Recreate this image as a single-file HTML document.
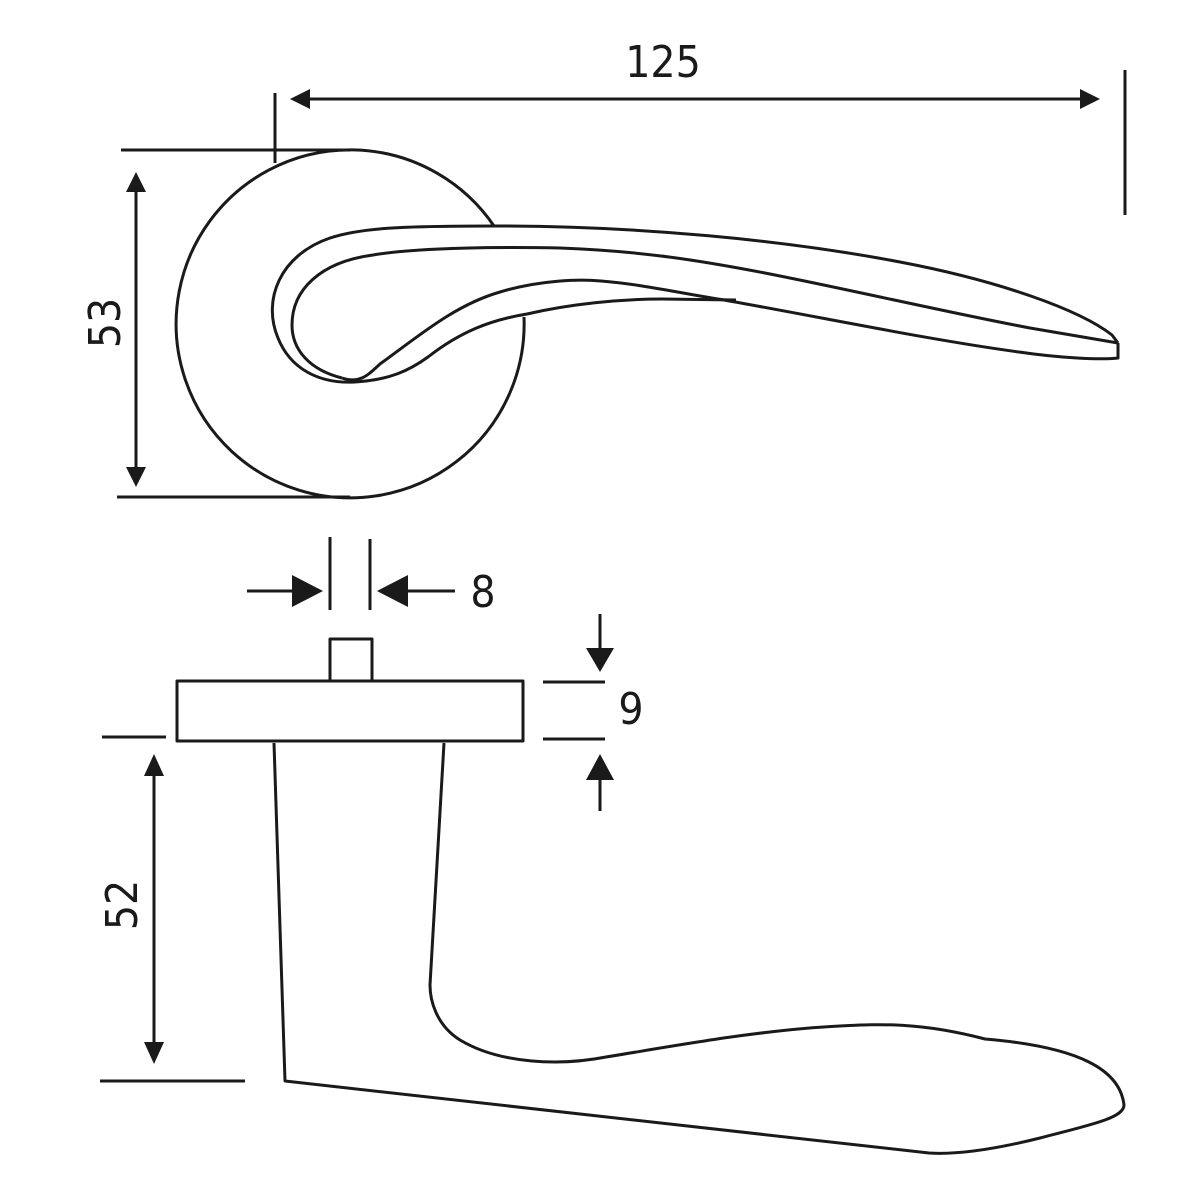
<!DOCTYPE html>
<html><head><meta charset="utf-8"><style>html,body{margin:0;padding:0;background:#fff}svg{display:block}</style></head>
<body>
<svg width="1200" height="1200" viewBox="0 0 1200 1200" xmlns="http://www.w3.org/2000/svg">
<defs>
<marker id="a" viewBox="0 0 10 10" refX="10" refY="5" markerWidth="7" markerHeight="7" orient="auto-start-reverse" markerUnits="userSpaceOnUse">
</marker>
</defs>
<g fill="none" stroke="#1a1a1a" stroke-width="3" stroke-linejoin="round" stroke-linecap="butt">
<!-- top view rosette -->
<path d="M494,226 A174,174 0 1 0 524,317"/>
<!-- lever outer -->
<path d="M355,382 C318,384 290,368 278,338 C262,300 280,255 330,238 C360,228 400,226 494,226 C640,226 785,240 900,262 C1000,281 1080,310 1112,335 L1118,343"/>
<!-- lever inner -->
<path d="M342,378 C310,370 292,350 292,325 C292,290 320,262 373,255 C420,247 508,247 560,248 C640,251 700,260 780,276 C860,292 960,315 1030,328 L1118,343"/>
<!-- lower edge -->
<path d="M342,378 C360,384 368,375 380,364 C420,335 455,305 500,292 C540,280 580,279 601,281 C640,284 680,293 724,300 C820,317 930,340 1019,352 C1060,358 1100,360 1118,358 L1118,343"/>
<path d="M355,382 C390,380 410,370 428,357 C460,332 490,320 527,314 C570,304 620,299 662,299 L736,300"/>
<!-- dims top -->
<line x1="121" y1="150" x2="350" y2="150"/>
<line x1="117" y1="497" x2="350" y2="497"/>
<line x1="275" y1="93" x2="275" y2="163"/>
<line x1="1125" y1="70" x2="1125" y2="215"/>
<line x1="305" y1="99" x2="1083" y2="99"/>
<line x1="136" y1="190" x2="136" y2="470"/>
<!-- bottom view -->
<rect x="177" y="681" width="346" height="60"/>
<rect x="330" y="639" width="42" height="42"/>
<path d="M274,743 L285,1081 L929,1153 C960,1155 1000,1148 1040,1138 C1090,1125 1124,1118 1124,1105 C1120,1070 1080,1047 985,1039 C920,1022 880,1024 840,1026 C760,1030 680,1045 606,1057 C560,1066 500,1064 460,1040 C436,1025 430,1000 430,985 L444,743"/>
<line x1="330" y1="537" x2="330" y2="610"/>
<line x1="370" y1="539" x2="370" y2="610"/>
<line x1="247" y1="591" x2="295" y2="591"/>
<line x1="405" y1="591" x2="455" y2="591"/>
<line x1="543" y1="682" x2="605" y2="682"/>
<line x1="543" y1="739" x2="605" y2="739"/>
<line x1="600" y1="614" x2="600" y2="648"/>
<line x1="600" y1="780" x2="600" y2="811"/>
<line x1="102" y1="737" x2="166" y2="737"/>
<line x1="100" y1="1081" x2="245" y2="1081"/>
<line x1="154" y1="775" x2="154" y2="1045"/>
</g>
<g fill="#1a1a1a">
<polygon points="290,99 310,89 310,109"/>
<polygon points="1100,99 1080,89 1080,109"/>
<polygon points="136,172 126,192 146,192"/>
<polygon points="136,487 126,467 146,467"/>
<polygon points="323,591 292,575 292,607"/>
<polygon points="377,591 408,575 408,607"/>
<polygon points="600,672 586,648 614,648"/>
<polygon points="600,754 586,780 614,780"/>
<polygon points="154,754 144,776 164,776"/>
<polygon points="154,1064 144,1042 164,1042"/>
</g>
<g font-family="'DejaVu Sans Condensed','Liberation Sans',sans-serif" font-size="44" fill="#1a1a1a" text-anchor="middle">
<text x="663" y="77">125</text>
<text x="483" y="607">8</text>
<text x="631" y="724">9</text>
<text transform="translate(120,323) rotate(-90)">53</text>
<text transform="translate(137,905) rotate(-90)">52</text>
</g>
</svg>
</body></html>
